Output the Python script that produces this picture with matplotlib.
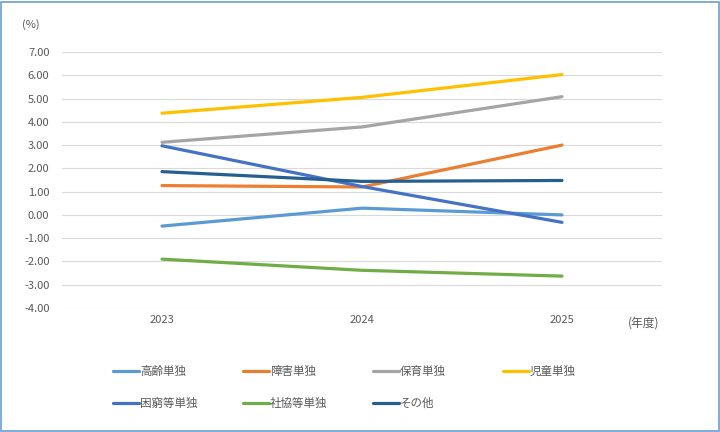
import matplotlib.pyplot as plt
from matplotlib.lines import Line2D
from matplotlib.patches import Rectangle

plt.rcParams['font.family'] = ['Noto Sans CJK JP', 'DejaVu Sans']

years = ['2023', '2024', '2025']
series_names = ['高齢単独', '障害単独', '保育単独', '児童単独', '困窮等単独', '社協等単独', 'その他']
koreii = [-0.48, 0.29, 0.00]
shougai = [1.26, 1.20, 3.00]
hoiku = [3.12, 3.78, 5.08]
jidou = [4.37, 5.05, 6.03]
konkyu = [2.97, 1.22, -0.32]
shakyo = [-1.90, -2.38, -2.63]
sonota = [1.86, 1.44, 1.48]
series_values = [koreii, shougai, hoiku, jidou, konkyu, shakyo, sonota]
colors = ['#5B9BD5', '#ED7D31', '#A5A5A5', '#FFC000', '#4472C4', '#70AD47', '#255E91']
yticks = [7, 6, 5, 4, 3, 2, 1, 0, -1, -2, -3, -4]

W, H = 720, 432
fig = plt.figure(figsize=(7.2, 4.32), dpi=100)
ax = fig.add_axes([62 / W, 1 - 308 / H, 600 / W, 256 / H])

x = list(range(len(years)))
for name, vals, c in zip(series_names, series_values, colors):
    ax.plot(x, vals, color=c, lw=2.3, solid_capstyle='round', label=name)

ax.set_xlim(-0.5, 2.5)
ax.set_ylim(-4, 7)
ax.set_yticks(yticks)
ax.set_yticklabels(['%.2f' % v for v in yticks], fontsize=8, color='#595959')
ax.set_xticks(x)
ax.set_xticklabels(years, fontsize=8, color='#595959')
ax.grid(axis='y', color='#D9D9D9', lw=0.8)
ax.set_axisbelow(True)
for s in ax.spines.values():
    s.set_visible(False)
ax.tick_params(axis='x', length=0, pad=5)
ax.tick_params(axis='y', length=0, pad=9)

fig.text(22 / W, 1 - 25 / H, '(%)', fontsize=8, color='#595959', va='center')
fig.text(628 / W, 1 - 323 / H, '(年度)', fontsize=8.5, color='#595959', va='center')

# legend, laid out like the Excel one
col_x = [113, 243, 373, 503]
row_y = [371, 403]
for i, (name, c) in enumerate(zip(series_names, colors)):
    lx = col_x[i % 4]
    ly = row_y[i // 4]
    fig.add_artist(Line2D([lx / W, (lx + 26) / W], [1 - ly / H, 1 - ly / H],
                          color=c, lw=2.3, solid_capstyle='round'))
    fig.text((lx + 27) / W, 1 - ly / H, name, fontsize=8.3, color='#595959', va='center')

fig.add_artist(Rectangle((0.5 / W, 1.5 / H), (W - 2) / W, (H - 3) / H, fill=False,
                         edgecolor='#6A9FD0', lw=1.2, transform=fig.transFigure))

fig.savefig('out.png', dpi=100)
